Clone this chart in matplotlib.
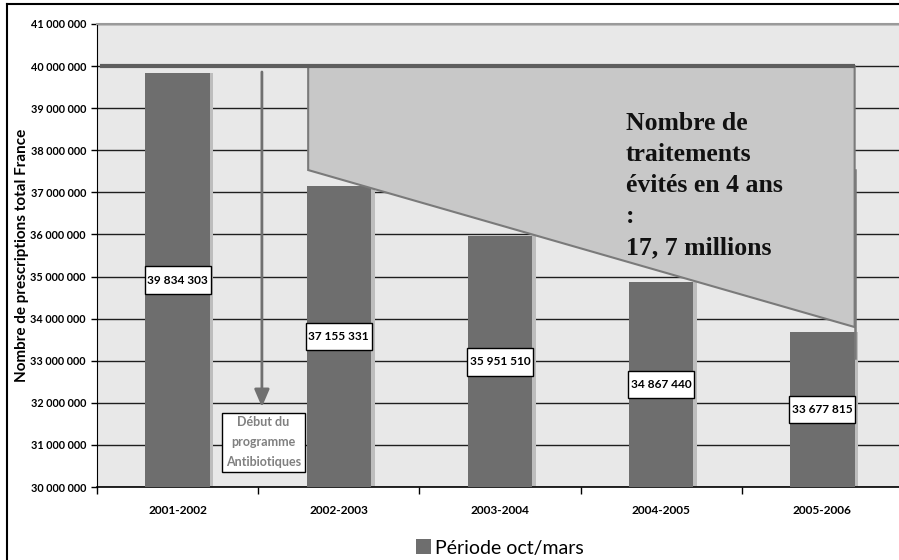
import matplotlib
matplotlib.use("Agg")
import matplotlib.pyplot as plt
from matplotlib.patches import Rectangle, Polygon, Patch
from matplotlib.lines import Line2D
from matplotlib.ticker import FuncFormatter, MultipleLocator, FixedLocator

# Prescriptions per winter season (October to March)
periods = ["2001-2002", "2002-2003", "2003-2004", "2004-2005", "2005-2006"]
prescriptions = [39834303, 37155331, 35951510, 34867440, 33677815]

# Shaded band of avoided treatments
band_reference = 40_000_000
band_left_low = 37_530_000
band_right_low = 33_800_000
band_x = [0.81, 4.20]
band_text = "Nombre de\ntraitements\névités en 4 ans\n:\n17, 7 millions"

# Start of the national antibiotics programme
programme_x = 0.523
programme_text = "Début du\nprogramme\nAntibiotiques"

y_min, y_max = 30_000_000, 41_000_000

BAR = "#6e6e6e"
SHADOW = "#bdbdbd"
PANEL = "#e8e8e8"
SANS = "Lato"

plt.rcParams["font.family"] = [SANS, "DejaVu Sans"]


def spaced(v, _pos=None):
    return f"{v:,.0f}".replace(",", " ")


fig = plt.figure(figsize=(8.99, 5.6), dpi=100)
ax = fig.add_axes([97 / 899, 1 - 487 / 560, 806 / 899, 463 / 560])
ax.set_facecolor(PANEL)
ax.set_xlim(-0.5, len(periods) - 0.5)
ax.set_ylim(y_min, y_max)

# gridlines
ax.yaxis.set_major_locator(MultipleLocator(1_000_000))
ax.grid(axis="y", color="#1e1e1e", linewidth=1.0, zorder=0)
ax.set_axisbelow(True)

x = list(range(len(periods)))
heights = [v - y_min for v in prescriptions]
bw = 0.40
ax.bar([i + 0.022 for i in x], heights, bottom=y_min, width=bw,
       color=SHADOW, zorder=2)
ax.bar(x, heights, bottom=y_min, width=bw, color=BAR, zorder=3)

# avoided-treatment band
poly = Polygon([(band_x[0], band_reference), (band_x[0], band_left_low),
                (band_x[1], band_right_low), (band_x[1], band_reference)],
               closed=True, facecolor="#c8c8c8", edgecolor="#7a7a7a",
               linewidth=1.5, zorder=4)
ax.add_patch(poly)
ax.plot([band_x[1], band_x[1]], [band_left_low, 33_060_000],
        color="#7a7a7a", linewidth=1.8, zorder=4)
ax.plot([-0.48, band_x[1]], [band_reference, band_reference],
        color="#5e5e5e", linewidth=3.0, solid_capstyle="butt", zorder=5)

ax.text(2.78, 38_920_000, band_text, ha="left", va="top",
        fontfamily="Liberation Serif", fontweight="bold", fontsize=18.5,
        color="#111111", linespacing=1.46, zorder=6)

# programme start arrow and label
ax.annotate("", xy=(programme_x, 31_900_000), xytext=(programme_x, 39_860_000),
            arrowprops=dict(arrowstyle="-|>,head_length=0.7,head_width=0.3",
                            mutation_scale=15, color="#707070", lw=2,
                            shrinkA=0, shrinkB=0), zorder=5)
ax.text(programme_x + 0.01, 31_060_000, programme_text, ha="center",
        va="center", fontsize=9, fontweight="bold", color="#808080",
        linespacing=1.8, zorder=6,
        bbox=dict(boxstyle="square,pad=0.28", fc="white", ec="black", lw=1))

# value labels at mid-height of each bar
box_h = 0.66e6
for i, v in zip(x, prescriptions):
    mid = (y_min + v) / 2
    ax.add_patch(Rectangle((i - 0.205, mid - box_h / 2), 0.41, box_h,
                           facecolor="white", edgecolor="black",
                           linewidth=1.0, zorder=6))
    ax.text(i, mid, spaced(v), ha="center", va="center", fontsize=8.6,
            fontweight="bold", color="black", zorder=7)

# axes styling
ax.spines["right"].set_visible(False)
ax.spines["top"].set_color("#9a9a9a")
ax.spines["top"].set_linewidth(1.5)
ax.spines["left"].set_color("black")
ax.spines["bottom"].set_color("black")
ax.spines["bottom"].set_linewidth(1.2)

ax.yaxis.set_major_formatter(FuncFormatter(spaced))
ax.tick_params(axis="y", labelsize=7.8, length=4, width=1, pad=4,
               colors="black")
for lab in ax.get_yticklabels():
    lab.set_fontweight("bold")
ax.set_xticks(x)
ax.set_xticklabels(periods, fontsize=8.6, fontweight="bold")
ax.tick_params(axis="x", which="major", length=0, pad=13)
ax.xaxis.set_minor_locator(FixedLocator([i - 0.5 for i in x]))
ax.tick_params(axis="x", which="minor", length=5, width=1, direction="out")

ax.set_ylabel("Nombre de prescriptions total France", fontsize=11,
              fontweight="bold")
ax.yaxis.set_label_coords(-0.084, 0.5)

fig.legend(handles=[Patch(facecolor=BAR, edgecolor="none")],
           labels=["Période oct/mars"], loc="center",
           bbox_to_anchor=(500 / 899, 1 - 548 / 560), frameon=False,
           prop=dict(family=SANS, size=14), handlelength=0.8,
           handleheight=0.8, handletextpad=0.2)

# outer frame
fig.add_artist(Line2D([7 / 899, 7 / 899], [0, 1 - 4 / 560],
                      transform=fig.transFigure, color="black", lw=1.5))
fig.add_artist(Line2D([7 / 899, 1], [1 - 4 / 560, 1 - 4 / 560],
                      transform=fig.transFigure, color="black", lw=1.5))

fig.savefig("out.png", dpi=100)
